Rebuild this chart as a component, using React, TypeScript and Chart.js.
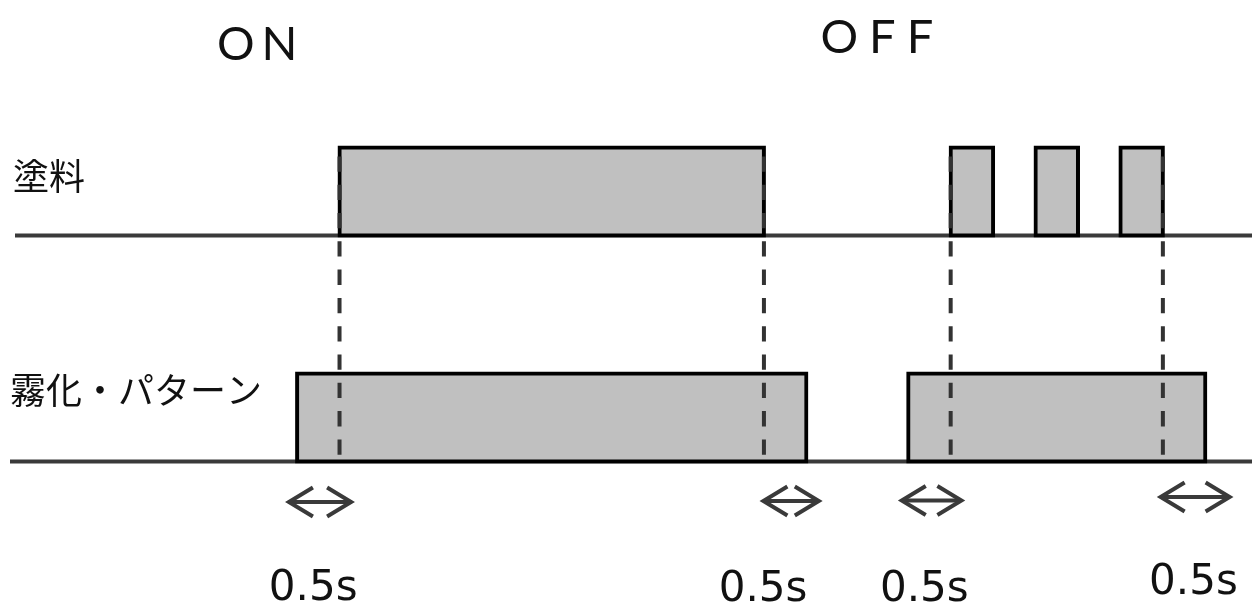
import React, { useEffect, useRef } from "react";
import { Chart, registerables } from "chart.js";

Chart.register(...registerables);

// ---- data (time in seconds) ----
const SIGNALS: string[] = ["塗料", "霧化・パターン"];
const PAINT_PULSES: [number, number][] = [
  [0.5, 5.5],
  [7.7, 8.2],
  [8.7, 9.2],
  [9.7, 10.2],
];
const ATOMIZE_PULSES: [number, number][] = [
  [0, 6],
  [7.2, 10.7],
];
const PHASE_LABELS: string[] = ["ON", "OFF"];
const PHASE_TIMES: number[] = [-0.47, 6.83];
const DASH_TIMES: number[] = [0.5, 5.5, 7.7, 10.2];
const ARROW_SPANS: [number, number][] = [
  [-0.12, 0.66],
  [5.47, 6.17],
  [7.1, 7.85],
  [10.15, 11.01],
];
const DELAY_LABELS: string[] = ["0.5s", "0.5s", "0.5s", "0.5s"];
const DELAY_LABEL_TIMES: number[] = [0.19, 5.49, 7.39, 10.56];
const TIME_MIN = -3.5;
const TIME_MAX = 11.25;

const W = 1252;
const H = 606;

const decorPlugin = {
  id: "timingDecor",
  beforeDatasetsDraw(chart: any) {
    const ctx = chart.ctx as CanvasRenderingContext2D;
    const area = chart.chartArea;
    const meta = chart.getDatasetMeta(0);
    const starts = [15, 10];
    ctx.save();
    ctx.strokeStyle = "#3a3a3a";
    ctx.lineWidth = 4;
    meta.data.forEach((el: any, i: number) => {
      const props = el.getProps(["y", "height"], true);
      const yBase = props.y + props.height / 2;
      ctx.beginPath();
      ctx.moveTo(area.left + starts[i], yBase);
      ctx.lineTo(area.right, yBase);
      ctx.stroke();
    });
    ctx.restore();
  },
  afterDatasetsDraw(chart: any) {
    const ctx = chart.ctx as CanvasRenderingContext2D;
    const xs = chart.scales.x;
    const meta = chart.getDatasetMeta(0);
    const p0 = meta.data[0].getProps(["y", "height"], true);
    const p1 = meta.data[1].getProps(["y", "height"], true);
    const paintTop = p0.y - p0.height / 2;
    const atomBase = p1.y + p1.height / 2;

    // dashed guide lines
    ctx.save();
    ctx.strokeStyle = "#333333";
    ctx.lineWidth = 4;
    ctx.setLineDash([15.3, 13]);
    ctx.lineDashOffset = 19.4;
    DASH_TIMES.forEach((t) => {
      const x = xs.getPixelForValue(t);
      ctx.beginPath();
      ctx.moveTo(x, paintTop);
      ctx.lineTo(x, atomBase);
      ctx.stroke();
    });
    ctx.restore();

    // double arrows
    const arrowY = [502, 501, 500.5, 497];
    ctx.save();
    ctx.strokeStyle = "#3a3a3a";
    ctx.lineWidth = 4;
    ctx.lineJoin = "miter";
    ctx.lineCap = "butt";
    ARROW_SPANS.forEach(([a, b], i) => {
      const x0 = xs.getPixelForValue(a);
      const x1 = xs.getPixelForValue(b);
      const y = arrowY[i];
      const aw = 26;
      const ah = 14.5;
      ctx.beginPath();
      ctx.moveTo(x0 + 3, y);
      ctx.lineTo(x1 - 3, y);
      ctx.stroke();
      ctx.beginPath();
      ctx.moveTo(x0 + aw, y - ah);
      ctx.lineTo(x0 + 2, y);
      ctx.lineTo(x0 + aw, y + ah);
      ctx.stroke();
      ctx.beginPath();
      ctx.moveTo(x1 - aw, y - ah);
      ctx.lineTo(x1 - 2, y);
      ctx.lineTo(x1 - aw, y + ah);
      ctx.stroke();
    });
    ctx.restore();

    // texts
    ctx.save();
    ctx.fillStyle = "#111111";
    ctx.textBaseline = "alphabetic";
    ctx.textAlign = "center";
    ctx.font = '42px "DejaVu Sans"';
    const labelY = [600, 601, 601, 594];
    DELAY_LABELS.forEach((s, i) => {
      ctx.fillText(s, xs.getPixelForValue(DELAY_LABEL_TIMES[i]), labelY[i]);
    });

    ctx.font = '400 47px Lato';
    const phaseY = [60, 52.5];
    const spacing = [7, 11];
    PHASE_LABELS.forEach((s, i) => {
      (ctx as any).letterSpacing = spacing[i] + "px";
      ctx.fillText(s, xs.getPixelForValue(PHASE_TIMES[i]) + spacing[i] / 2, phaseY[i]);
    });
    (ctx as any).letterSpacing = "0px";

    ctx.textAlign = "left";
    ctx.textBaseline = "middle";
    ctx.font = '36px "Noto Sans CJK JP"';
    ctx.fillStyle = "#111111";
    const sigY = [176, 390];
    const sigX = [13, 10];
    SIGNALS.forEach((s, i) => {
      ctx.fillText(s, sigX[i], sigY[i]);
    });
    ctx.restore();
  },
};

export default function App() {
  const canvasRef = useRef<HTMLCanvasElement | null>(null);

  useEffect(() => {
    let chart: Chart | null = null;
    let cancelled = false;
    const n = Math.max(PAINT_PULSES.length, ATOMIZE_PULSES.length);
    const datasets = [] as any[];
    for (let i = 0; i < n; i++) {
      datasets.push({
        label: "pulse " + (i + 1),
        data: [PAINT_PULSES[i] ?? null, ATOMIZE_PULSES[i] ?? null],
        backgroundColor: "#c0c0c0",
        borderColor: "#000000",
        borderWidth: 4,
        borderSkipped: false,
        inflateAmount: 2,
        barThickness: 88,
        grouped: false,
      });
    }
    const make = () => {
      if (cancelled || !canvasRef.current) return;
      chart = new Chart(canvasRef.current, {
        type: "bar",
        data: { labels: SIGNALS, datasets },
        options: {
          indexAxis: "y",
          animation: false,
          responsive: false,
          devicePixelRatio: 1,
          layout: { padding: { top: 78.5, bottom: 75.5, left: 0, right: 0 } },
          plugins: { legend: { display: false }, tooltip: { enabled: false } },
          scales: {
            x: { type: "linear", min: TIME_MIN, max: TIME_MAX, display: false },
            y: { type: "category", display: false },
          },
        } as any,
        plugins: [decorPlugin],
      });
    };
    const fonts = [
      '36px "Noto Sans CJK JP"',
      '42px "DejaVu Sans"',
      '400 47px Lato',
    ];
    Promise.all(fonts.map((f) => (document as any).fonts.load(f).catch(() => null)))
      .then(make, make);
    return () => {
      cancelled = true;
      if (chart) chart.destroy();
    };
  }, []);

  return (
    <div style={{ position: "fixed", left: 0, top: 0, width: W, height: H, background: "#fff" }}>
      <canvas ref={canvasRef} width={W} height={H} style={{ display: "block", width: W, height: H }} />
    </div>
  );
}
